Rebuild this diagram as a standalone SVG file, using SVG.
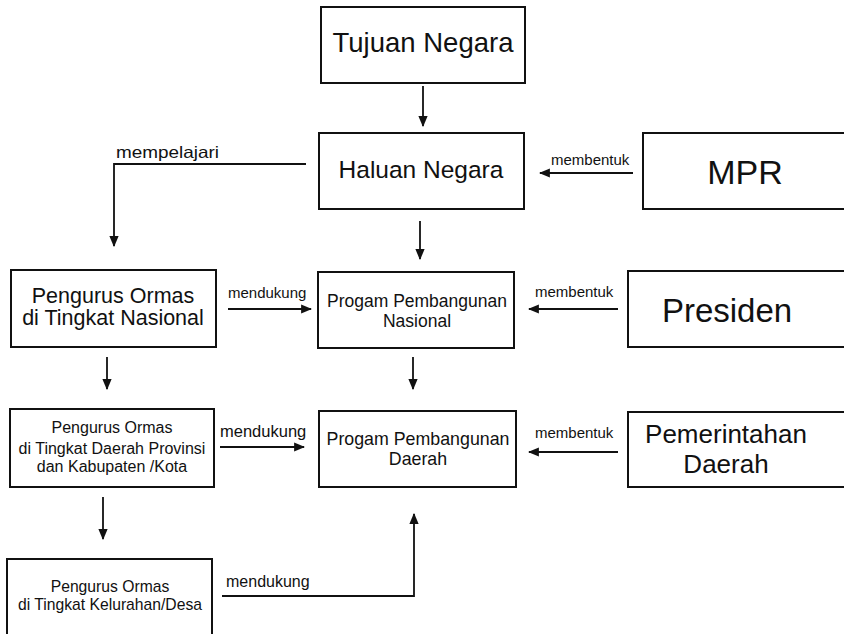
<svg xmlns="http://www.w3.org/2000/svg" width="844" height="634" viewBox="0 0 844 634">
  <style>
    .box { fill: #ffffff; stroke: #111111; stroke-width: 2; }
    .t { font-family: "Liberation Sans", Arial, sans-serif; fill: #111111; text-anchor: middle; }
    .lbl { font-family: "Liberation Sans", Arial, sans-serif; fill: #111111; }
    .wire { fill: none; stroke: #111111; stroke-width: 1.8; }
  </style>
  <defs>
    <marker id="arrow" viewBox="0 0 10 10" refX="9" refY="5" markerWidth="11" markerHeight="11" markerUnits="userSpaceOnUse" orient="auto">
      <path d="M0,0.8 L10,5 L0,9.2 Z" fill="#111111"/>
    </marker>
  </defs>
  <rect width="844" height="634" fill="#ffffff"/>

  <g id="tujuan-negara">
    <rect class="box" x="321" y="7" width="204" height="76"/>
    <text class="t" x="423" y="52" font-size="27.5">Tujuan Negara</text>
  </g>

  <g id="haluan-negara">
    <rect class="box" x="319" y="133" width="205" height="76"/>
    <text class="t" x="421" y="178" font-size="24.5">Haluan Negara</text>
  </g>

  <g id="mpr">
    <rect class="box" x="643" y="133" width="210" height="76"/>
    <text class="t" x="745" y="184" font-size="34">MPR</text>
  </g>

  <g id="ormas-nasional">
    <rect class="box" x="11" y="270" width="205" height="77"/>
    <text class="t" x="113" y="303" font-size="21.5">Pengurus Ormas</text>
    <text class="t" x="113" y="325" font-size="21.5">di Tingkat Nasional</text>
  </g>

  <g id="program-nasional">
    <rect class="box" x="318" y="272" width="196" height="76"/>
    <text class="t" x="417" y="307" font-size="17.5">Progam Pembangunan</text>
    <text class="t" x="417" y="327" font-size="17.5">Nasional</text>
  </g>

  <g id="presiden">
    <rect class="box" x="628" y="271" width="225" height="76"/>
    <text class="t" x="727" y="322" font-size="33">Presiden</text>
  </g>

  <g id="ormas-provinsi">
    <rect class="box" x="10" y="409" width="204" height="78"/>
    <text class="t" x="112" y="433" font-size="16">Pengurus Ormas</text>
    <text class="t" x="112" y="454" font-size="16">di Tingkat Daerah Provinsi</text>
    <text class="t" x="112" y="472" font-size="16">dan Kabupaten /Kota</text>
  </g>

  <g id="program-daerah">
    <rect class="box" x="319" y="411" width="197" height="76"/>
    <text class="t" x="418" y="445" font-size="17.8">Progam Pembangunan</text>
    <text class="t" x="418" y="465" font-size="17.8">Daerah</text>
  </g>

  <g id="pemerintahan-daerah">
    <rect class="box" x="628" y="412" width="225" height="75"/>
    <text class="t" x="726" y="443" font-size="26">Pemerintahan</text>
    <text class="t" x="726" y="473" font-size="26">Daerah</text>
  </g>

  <g id="ormas-kelurahan">
    <rect class="box" x="7" y="559" width="205" height="90"/>
    <text class="t" x="110" y="592" font-size="15.7">Pengurus Ormas</text>
    <text class="t" x="110" y="610" font-size="15.7">di Tingkat Kelurahan/Desa</text>
  </g>

  <g id="connectors">
    <line class="wire" x1="423" y1="86" x2="423" y2="126" marker-end="url(#arrow)"/>
    <line class="wire" x1="420" y1="221" x2="420" y2="259" marker-end="url(#arrow)"/>
    <line class="wire" x1="413" y1="357" x2="413" y2="389" marker-end="url(#arrow)"/>

    <polyline class="wire" points="306,164 114,164 114,246" marker-end="url(#arrow)"/>
    <text class="lbl" x="116" y="158" font-size="16.5" textLength="103" lengthAdjust="spacingAndGlyphs">mempelajari</text>

    <line class="wire" x1="633" y1="173" x2="540" y2="173" marker-end="url(#arrow)"/>
    <text class="lbl" x="551" y="165" font-size="15">membentuk</text>

    <line class="wire" x1="618" y1="309" x2="529" y2="309" marker-end="url(#arrow)"/>
    <text class="lbl" x="535" y="297" font-size="15">membentuk</text>

    <line class="wire" x1="618" y1="452" x2="529" y2="452" marker-end="url(#arrow)"/>
    <text class="lbl" x="535" y="438" font-size="15">membentuk</text>

    <line class="wire" x1="228" y1="309" x2="311" y2="309" marker-end="url(#arrow)"/>
    <text class="lbl" x="228" y="298" font-size="15">mendukung</text>

    <line class="wire" x1="107" y1="357" x2="107" y2="389" marker-end="url(#arrow)"/>

    <line class="wire" x1="220" y1="447" x2="304" y2="447" marker-end="url(#arrow)"/>
    <text class="lbl" x="220" y="437" font-size="16.5">mendukung</text>

    <line class="wire" x1="103" y1="497" x2="103" y2="539" marker-end="url(#arrow)"/>

    <polyline class="wire" points="222,596 414,596 414,514" marker-end="url(#arrow)"/>
    <text class="lbl" x="226" y="587" font-size="16">mendukung</text>
  </g>
</svg>
